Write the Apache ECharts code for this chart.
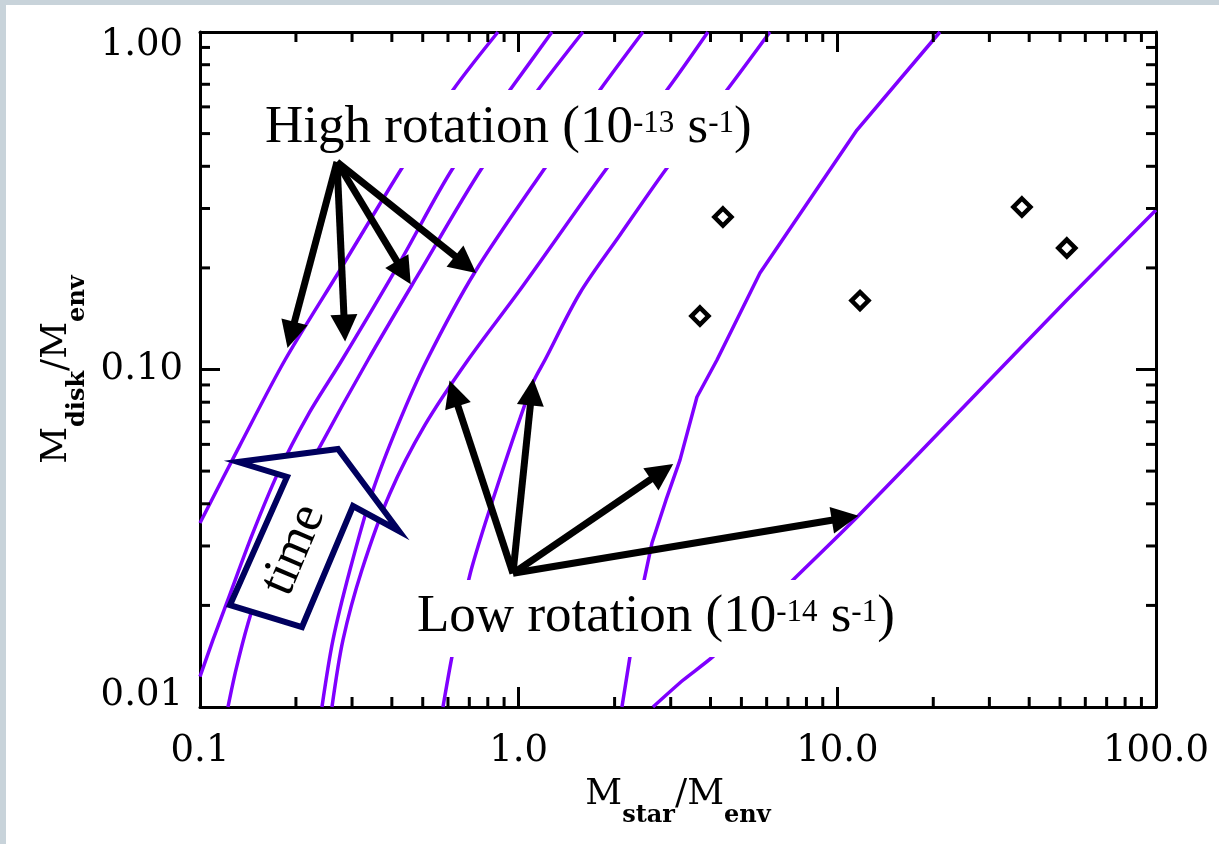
<!DOCTYPE html>
<html><head><meta charset="utf-8">
<script src="https://cdn.jsdelivr.net/npm/echarts@6/dist/echarts.min.js"></script>
<style>
html,body{margin:0;padding:0;background:#fff;width:1219px;height:844px;overflow:hidden}
#chart{position:absolute;left:0;top:0;width:1219px;height:844px}
#edgeL{position:absolute;left:0;top:0;width:6px;height:844px;background:#c8d3da}
#edgeT{position:absolute;left:0;top:0;width:1219px;height:5px;background:#c8d3da}
</style></head><body>
<div id="chart"></div><div id="edgeL"></div><div id="edgeT"></div>
<script>
// ---- axis ticks ----
const xTickValues = [0.1, 1, 10, 100];
const xTickLabels = ['0.1', '1.0', '10.0', '100.0'];
const yTickValues = [0.01, 0.1, 1];
const yTickLabels = ['0.01', '0.10', '1.00'];
const xMinorTicks = [0.2,0.3,0.4,0.5,0.6,0.7,0.8,0.9, 2,3,4,5,6,7,8,9, 20,30,40,50,60,70,80,90];
const yMinorTicks = [0.02,0.03,0.04,0.05,0.06,0.07,0.08,0.09, 0.2,0.3,0.4,0.5,0.6,0.7,0.8,0.9];

// ---- high rotation tracks (x = Mstar/Menv, y = Mdisk/Menv) ----
const highA = [[0.1,0.0351],[0.1335,0.0597],[0.1848,0.1067],[0.2750,0.1972],[0.4303,0.3954],[0.6221,0.6732],[0.8611,1.0]];
const highB = [[0.1,0.0123],[0.1098,0.0158],[0.1224,0.0208],[0.1456,0.0323],[0.1757,0.0494],[0.2182,0.0733],[0.2790,0.1067],[0.4242,0.2082],[0.6221,0.3954],[0.9390,0.6732],[1.272,1.0]];
const highC = [[0.1224,0.0100],[0.1297,0.0129],[0.1415,0.0177],[0.1634,0.0273],[0.1916,0.0397],[0.2346,0.0577],[0.3366,0.1067],[0.4831,0.1906],[0.7670,0.3954],[1.150,0.6732],[1.591,1.0]];
const highD = [[0.2414,0.0100],[0.2614,0.0158],[0.2956,0.0255],[0.3465,0.0430],[0.4181,0.0685],[0.5155,0.1067],[0.7292,0.1945],[1.209,0.3954],[1.799,0.6732],[2.455,1.0]];
// ---- low rotation tracks ----
const lowE = [[0.2595,0.0100],[0.2810,0.0158],[0.3223,0.0255],[0.3946,0.0430],[0.5082,0.0685],[0.6933,0.1067],[1.009,0.1720],[1.893,0.3954],[2.919,0.6732],[3.926,1.0]];
const lowF = [[0.5787,0.0100],[0.6176,0.0141],[0.6639,0.0194],[0.7136,0.0260],[0.8426,0.0430],[1.101,0.0900],[1.209,0.1067],[1.557,0.1685],[2.079,0.2503],[2.919,0.3954],[4.504,0.6732],[6.145,1.0]];
const lowG = [[2.109,0.0100],[2.235,0.0141],[2.402,0.0208],[2.620,0.0306],[2.898,0.0410],[3.207,0.0539],[3.626,0.0829],[4.190,0.1067],[5.717,0.1932],[11.52,0.5124],[20.99,1.0]];
const lowH = [[2.639,0.0100],[3.277,0.0120],[4.070,0.0141],[7.255,0.0238],[11.52,0.0365],[28.02,0.0869],[52.53,0.1607],[100,0.2969]];

// ---- observed sources (diamonds) ----
const sources = [[4.375,0.283],[3.706,0.144],[11.78,0.160],[37.95,0.303],[52.5,0.229]];

// ---- annotation arrows (data space) ----
const highArrowFrom = [0.2691, 0.4119];
const highArrowTo = [[0.1930,0.1266],[0.2841,0.1327],[0.4360,0.1936],[0.6813,0.2047]];
const lowArrowFrom = [0.9596, 0.0249];
const lowArrowTo = [[0.6256,0.0850],[1.0992,0.0858],[2.818,0.0498],[10.58,0.0363]];

const purple = '#7f00ff';
const tickFont = 'DejaVu Serif';
const annFont = 'Liberation Serif';

function nearestIndex(arr, v) {
  let best = 0, bd = Infinity;
  arr.forEach((a, i) => { const d = Math.abs(Math.log10(a) - Math.log10(v)); if (d < bd) { bd = d; best = i; } });
  return best;
}

const xMin = xTickValues[0], xMax = xTickValues[xTickValues.length-1];
const yMin = yTickValues[0], yMax = yTickValues[yTickValues.length-1];

function minorTickSeries(values, dir) {
  return {
    type: 'custom', silent: true, animation: false, clip: false, z: 3,
    xAxisIndex: 0, yAxisIndex: 0,
    data: values.map(v => dir === 'x' ? [v, yMin] : [xMin, v]),
    encode: { x: 0, y: 1 },
    renderItem: function (params, api) {
      const v = api.value(dir === 'x' ? 0 : 1);
      const st = { stroke: '#000', lineWidth: 3 };
      const L = 10;
      if (dir === 'x') {
        const a = api.coord([v, yMin]), b = api.coord([v, yMax]);
        return { type: 'group', children: [
          { type: 'line', shape: { x1: a[0], y1: a[1], x2: a[0], y2: a[1] - L }, style: st },
          { type: 'line', shape: { x1: b[0], y1: b[1], x2: b[0], y2: b[1] + L }, style: st } ] };
      } else {
        const a = api.coord([xMin, v]), b = api.coord([xMax, v]);
        return { type: 'group', children: [
          { type: 'line', shape: { x1: a[0], y1: a[1], x2: a[0] + L, y2: a[1] }, style: st },
          { type: 'line', shape: { x1: b[0], y1: b[1], x2: b[0] - L, y2: b[1] }, style: st } ] };
      }
    }
  };
}

function track(data, smooth) {
  return { type: 'line', data: data, symbol: 'none', showSymbol: false, smooth: smooth,
    lineStyle: { color: purple, width: 3.5 }, z: 2, silent: true, animation: false };
}

function arrowSeries(from, tos) {
  return { type: 'lines', coordinateSystem: 'cartesian2d', xAxisIndex: 0, yAxisIndex: 0,
    data: tos.map(t => ({ coords: [from, t] })),
    symbol: ['none', 'triangle'], symbolSize: 27,
    lineStyle: { color: '#000', width: 7, opacity: 1, curveness: 0 },
    z: 10, silent: true, animation: false };
}

const axisBase = {
  type: 'log', logBase: 10,
  axisLine: { show: true, lineStyle: { color: '#000', width: 3 } },
  axisTick: { show: true, inside: true, length: 20, lineStyle: { color: '#000', width: 3 } },
  splitLine: { show: false },
  minorTick: { show: false }
};

const nameRich = {
  m: { fontFamily: tickFont, fontSize: 36, lineHeight: 40, verticalAlign: 'top', color: '#000' },
  s: { fontFamily: tickFont, fontSize: 24, lineHeight: 24, verticalAlign: 'top', color: '#000', fontWeight: 'bold', padding: [27, 0, 0, 0] }
};

const annRich = {
  n: { fontFamily: annFont, fontSize: 53, lineHeight: 58, verticalAlign: 'top', fill: '#000', color: '#000' },
  s: { fontFamily: annFont, fontSize: 31, lineHeight: 31, verticalAlign: 'top', fill: '#000', color: '#000', padding: [6, 0, 0, 0] }
};

const chart = echarts.init(document.getElementById('chart'), null, { renderer: 'canvas' });
chart.setOption({
  animation: false,
  backgroundColor: '#fff',
  grid: { left: 200, right: 63, top: 32, bottom: 137, containLabel: false },
  xAxis: [
    Object.assign({}, axisBase, {
      position: 'bottom', min: xMin, max: xMax,
      axisLabel: { show: true, fontFamily: tickFont, fontSize: 37, color: '#000', margin: 26,
        formatter: v => xTickLabels[nearestIndex(xTickValues, v)] },
      name: '{m|M}{s|star}{m|/M}{s|env}', nameLocation: 'middle', nameGap: 70,
      nameTextStyle: { rich: nameRich }
    }),
    Object.assign({}, axisBase, { position: 'top', min: xMin, max: xMax, axisLabel: { show: false } })
  ],
  yAxis: [
    Object.assign({}, axisBase, {
      position: 'left', min: yMin, max: yMax,
      axisLabel: { show: true, margin: 17,
        formatter: v => { const i = nearestIndex(yTickValues, v); const k = i === yTickValues.length - 1 ? 't' : (i === 0 ? 'b' : 'm'); return '{' + k + '|' + yTickLabels[i] + '}'; },
        rich: {
          t: { fontFamily: tickFont, fontSize: 37, color: '#000', padding: [26, 0, 0, 0] },
          m: { fontFamily: tickFont, fontSize: 37, color: '#000' },
          b: { fontFamily: tickFont, fontSize: 37, color: '#000', padding: [0, 0, 24, 0] }
        } },
      name: '{m|M}{s|disk}{m|/M}{s|env}', nameLocation: 'middle', nameGap: 118, nameRotate: 90,
      nameTextStyle: { rich: nameRich }
    }),
    Object.assign({}, axisBase, { position: 'right', min: yMin, max: yMax, axisLabel: { show: false } })
  ],
  graphic: [
    { type: 'rect', z: 5, shape: { x: 255, y: 90, width: 507, height: 78 }, style: { fill: '#fff' }, silent: true },
    { type: 'text', z: 6, x: 265, y: 131, silent: true,
      style: { text: '{n|High rotation (10}{s|-13}{n| s}{s|-1}{n|)}', rich: annRich, align: 'left', verticalAlign: 'middle' } },
    { type: 'rect', z: 5, shape: { x: 408, y: 580, width: 488, height: 77 }, style: { fill: '#fff' }, silent: true },
    { type: 'text', z: 6, x: 417, y: 620, silent: true,
      style: { text: '{n|Low rotation (10}{s|-14}{n| s}{s|-1}{n|)}', rich: annRich, align: 'left', verticalAlign: 'middle' } },
    { type: 'polygon', z: 5, silent: true,
      shape: { points: [[338,449],[399,531],[353,506],[302,627],[230,605],[287,477],[238,462]] },
      style: { fill: '#fff', stroke: '#00005e', lineWidth: 6, lineJoin: 'miter' } },
    { type: 'text', z: 6, x: 294, y: 550, rotation: 67 * Math.PI / 180, silent: true,
      style: { text: 'time', fontFamily: annFont, fontSize: 52, fill: '#000', align: 'center', verticalAlign: 'middle' } }
  ],
  series: [
    track(highA, 0.3), track(highB, 0.3), track(highC, 0.3), track(highD, 0.3),
    track(lowE, 0.3), track(lowF, 0.3), track(lowG, false), track(lowH, 0.2),
    { type: 'scatter', data: sources, symbol: 'diamond', symbolSize: 17, z: 6, silent: true,
      itemStyle: { color: '#fff', borderColor: '#000', borderWidth: 4.5, opacity: 1 } },
    arrowSeries(highArrowFrom, highArrowTo),
    arrowSeries(lowArrowFrom, lowArrowTo),
    minorTickSeries(xMinorTicks, 'x'),
    minorTickSeries(yMinorTicks, 'y')
  ]
});
</script></body></html>
